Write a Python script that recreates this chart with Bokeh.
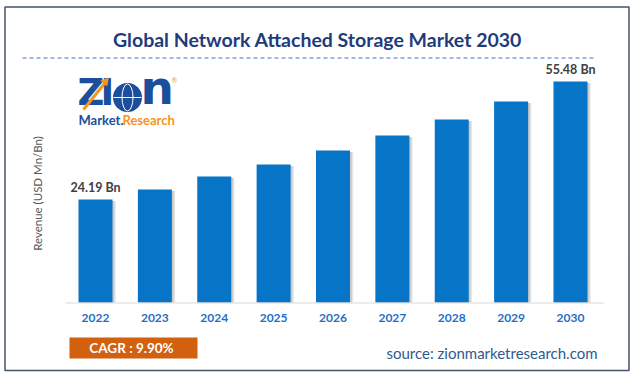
from bokeh.plotting import figure
from bokeh.models import Range1d, ColumnDataSource
from bokeh.core.properties import value
from bokeh.embed import file_html
from bokeh.resources import INLINE

# ---- data ----
years = ["2022", "2023", "2024", "2025", "2026", "2027", "2028", "2029", "2030"]
revenue = [24.19, 26.85, 30.29, 33.50, 37.19, 41.16, 45.41, 50.18, 55.48]
label_text = ["24.19 Bn", "", "", "", "", "", "", "", "55.48 Bn"]
axis_min = -3.12
title_text = "Global Network Attached Storage Market 2030"
cagr_text = "CAGR : 9.90%"
source_text = "source: zionmarketresearch.com"
ylabel_text = "Revenue (USD Mn/Bn)"

FONT = "Lato"
idx = list(range(len(years)))
src = ColumnDataSource(dict(idx=idx, years=years, rev=revenue, lab=label_text,
                            base=[axis_min] * len(years),
                            sidx=[i + 0.055 for i in idx],
                            sidx2=[i + 0.03 for i in idx],
                            srev=[v - 0.4 for v in revenue]))

p = figure(width=636, height=376, x_range=Range1d(0, 636), y_range=Range1d(376, 0),
           min_border=0, toolbar_location=None, output_backend="svg")
p.axis.visible = False
p.grid.visible = False
p.outline_line_color = None
p.background_fill_color = "white"

# scales for the bars: index units and value units
p.extra_x_ranges = {"idx": Range1d(-1.6, 9.112)}
p.extra_y_ranges = {"val": Range1d(-22.74, 76.97)}

# outer border
p.quad(left=[4.5], right=[628.5], top=[6.5], bottom=[370], fill_color=None,
       line_color="#44546a", line_width=1.5)

# title
p.text(x=[317], y=[39], text=[title_text], text_font=value(FONT), text_font_style="bold",
       text_font_size="19.5px", text_color="#1f3c7a", text_align="center", text_baseline="middle")
p.line(x=[22, 593], y=[57.5, 57.5], line_color="#4472c4", line_width=1, line_dash="4 3")

# shadows
p.vbar(x="sidx", top="srev", bottom="base", width=0.5726, source=src, x_range_name="idx",
       y_range_name="val", fill_color="#000000", fill_alpha=0.10, line_color=None)
p.vbar(x="sidx2", top="srev", bottom="base", width=0.5726, source=src, x_range_name="idx",
       y_range_name="val", fill_color="#000000", fill_alpha=0.12, line_color=None)
# bars
p.vbar(x="idx", top="rev", bottom="base", width=0.5726, source=src, x_range_name="idx",
       y_range_name="val", fill_color="#0675c8", line_color=None)

# baseline
p.line(x=[65, 603], y=[302.5, 302.5], line_color="#d9d9d9", line_width=1)

# value labels
p.text(x="idx", y="rev", text="lab", source=src, x_range_name="idx", y_range_name="val",
       y_offset=-12.5, text_font=value(FONT), text_font_style="bold", text_font_size="12.5px",
       text_color="#404040", text_align="center", text_baseline="middle")

# year labels
p.text(x="idx", y=317, text="years", source=src, x_range_name="idx",
       text_font=value(FONT), text_font_style="bold", text_font_size="12px",
       text_color="#1f6fc5", text_align="center", text_baseline="middle")

# y label
p.text(x=[37], y=[193], text=[ylabel_text], angle=1.5708, text_font=value(FONT),
       text_font_size="11.5px", text_color="#595959", text_align="center", text_baseline="middle")

# CAGR box
p.quad(left=[69], right=[197], top=[337], bottom=[358], fill_color="#d2600f", line_color=None)
p.text(x=[131], y=[347.5], text=[cagr_text], text_font=value(FONT), text_font_style="bold",
       text_font_size="13.5px", text_color="white", text_align="center", text_baseline="middle")

# source
p.text(x=[386], y=[352], text=[source_text], text_font=value(FONT), text_font_size="15px",
       text_color="#2f5a8e", text_align="left", text_baseline="middle")

# logo (approximation)
LB = "#1b4f9c"
LO = "#f7941d"
p.text(x=[77], y=[113], text=["Z"], text_font=value("DejaVu Sans"), text_font_style="bold",
       text_font_size="37px", text_color=LB, text_align="left", text_baseline="bottom")
p.text(x=[100], y=[113], text=["I"], text_font=value("DejaVu Sans"), text_font_style="bold",
       text_font_size="37px", text_color=LB, text_align="left", text_baseline="bottom")
p.scatter(x=[127], y=[97], size=29, marker="circle", fill_color=LB, line_color=None)
p.ellipse(x=[127], y=[97], width=11, height=27, fill_color=None, line_color="white", line_width=1)
p.line(x=[113, 141], y=[97, 97], line_color="white", line_width=1)
p.text(x=[140], y=[114], text=["n"], text_font=value("DejaVu Sans"), text_font_style="bold",
       text_font_size="47px", text_color=LB, text_align="left", text_baseline="bottom")
p.line(x=[83, 104], y=[109, 83], line_color=LO, line_width=3)
p.scatter(x=[105], y=[81], size=9, marker="triangle", angle=-0.7, fill_color=LO, line_color=None)
p.text(x=[174], y=[79], text=["®"], text_font=value(FONT), text_font_size="7px",
       text_color=LO, text_align="center", text_baseline="middle")
p.text(x=[78], y=[119], text=["Market."], text_font=value(FONT), text_font_style="bold",
       text_font_size="13px", text_color=LB, text_align="left", text_baseline="middle")
p.text(x=[122], y=[119], text=["Research"], text_font=value(FONT), text_font_style="bold",
       text_font_size="13px", text_color=LO, text_align="left", text_baseline="middle")

open("out.html", "w").write(file_html(p, INLINE))
